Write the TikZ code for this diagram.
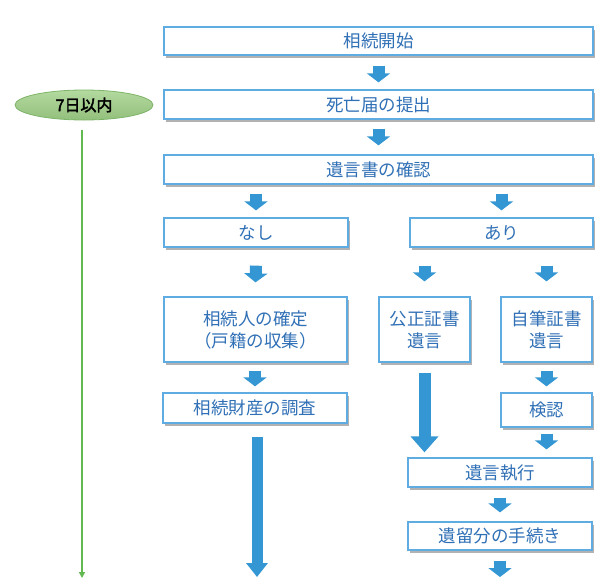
\documentclass[tikz,border=0pt]{standalone}
\usepackage{fontspec}
\newfontfamily\jp[AutoFakeBold=2.5]{Noto Sans CJK JP}
\usetikzlibrary{calc,shadows,arrows.meta,shapes.geometric}
\definecolor{boxline}{RGB}{95,172,226}
\definecolor{txtblue}{RGB}{48,112,182}
\definecolor{ablue}{RGB}{52,150,210}
\definecolor{gline}{RGB}{98,185,80}
\definecolor{gfill}{RGB}{160,208,135}
\definecolor{gborder}{RGB}{125,180,105}
\tikzset{
  box/.style={draw=boxline, line width=1.3pt, fill=white, inner sep=0pt,
    font=\jp\fontsize{17.5}{22}\selectfont, text=txtblue, align=center,
    drop shadow={shadow xshift=2pt, shadow yshift=-2.5pt, fill=black, opacity=.3}},
  barrow/.style={draw=ablue, line width=12pt, -{Triangle[width=23pt,length=9pt]}},
  bigarrow/.style={draw=ablue, line width=12pt, -{Triangle[width=27pt,length=16pt]}},
  longarrow/.style={draw=ablue, line width=11pt, -{Triangle[width=21pt,length=14pt]}},
}
\begin{document}
\begin{tikzpicture}[x=1pt,y=-1pt]
\useasboundingbox (0,0) rectangle (615,582);
% boxes
\node[box, minimum width=429pt, minimum height=28pt] (b1) at (378.5,41) {相続開始};
\node[box, minimum width=429pt, minimum height=29pt] (b2) at (378.5,104.5) {死亡届の提出};
\node[box, minimum width=429pt, minimum height=29pt] (b3) at (378.5,169.5) {遺言書の確認};
\node[box, minimum width=184pt, minimum height=29pt] (nashi) at (256,232.5) {なし};
\node[box, minimum width=183pt, minimum height=29pt] (ari) at (501.5,232.5) {あり};
\node[box, minimum width=183pt, minimum height=65pt] (sozokunin) at (255.5,329.5) {相続人の確定\\（戸籍の収集）};
\node[box, minimum width=91pt, minimum height=65pt] (kosei) at (424.5,329.5) {公正証書\\遺言};
\node[box, minimum width=91pt, minimum height=65pt] (jihitsu) at (546.5,329.5) {自筆証書\\遺言};
\node[box, minimum width=184pt, minimum height=30pt] (chosa) at (255,408) {相続財産の調査};
\node[box, minimum width=91pt, minimum height=34pt] (kennin) at (546.5,410) {検認};
\node[box, minimum width=184pt, minimum height=29pt] (shikko) at (500,472.5) {遺言執行};
\node[box, minimum width=184pt, minimum height=28pt] (iryubun) at (500,536) {遺留分の手続き};
% ellipse
\node[ellipse, draw=gborder, line width=0.8pt, top color=gfill!80!white, bottom color=gfill!92!black,
  minimum width=138pt, minimum height=30pt, inner sep=0pt,
  font=\jp\bfseries\fontsize{16}{18}\selectfont] (ell) at (84,105) {7日以内};
\coordinate (gend) at (82,578);
\draw[gline, line width=1.4pt, -{Triangle[width=6pt,length=6pt]}] ($(ell.south -| gend)+(0,10)$) -- (gend);
% arrows
\draw[barrow] ($(b1.south)+(0,10)$) -- ($(b2.north)+(0,-7)$);
\draw[barrow] ($(b2.south)+(0,9)$) -- ($(b3.north)+(0,-9)$);
\draw[barrow] ($(b3.south -| nashi.north)+(0,9)$) -- ($(nashi.north)+(0,-7)$);
\draw[barrow] ($(b3.south -| ari.north)+(0,9)$) -- ($(ari.north)+(0,-7)$);
\draw[barrow] ($(nashi.south)+(0,18)$) -- ($(sozokunin.north)+(0,-14)$);
\draw[barrow] ($(ari.south -| kosei.north)+(0,18)$) -- ($(kosei.north)+(0,-15)$);
\draw[barrow] ($(ari.south -| jihitsu.north)+(0,18)$) -- ($(jihitsu.north)+(0,-15)$);
\draw[barrow] ($(sozokunin.south -| chosa.north)+(0,8)$) -- ($(chosa.north)+(0,-6)$);
\draw[barrow] ($(jihitsu.south)+(0,8)$) -- ($(kennin.north)+(0,-6)$);
\draw[barrow] ($(kennin.south)+(0,6)$) -- ($(shikko.north -| kennin.south)+(0,-8)$);
\draw[bigarrow] ($(kosei.south)+(0,10)$) -- ($(shikko.north -| kosei.south)+(0,-5)$);
\draw[barrow] ($(shikko.south)+(0,10)$) -- ($(iryubun.north)+(0,-9)$);
\coordinate (rend) at (500,577);
\draw[barrow] ($(iryubun.south)+(0,10)$) -- (rend);
\coordinate (lend) at (257,577);
\draw[longarrow] ($(chosa.south -| lend)+(0,13)$) -- (lend);
\end{tikzpicture}
\end{document}
